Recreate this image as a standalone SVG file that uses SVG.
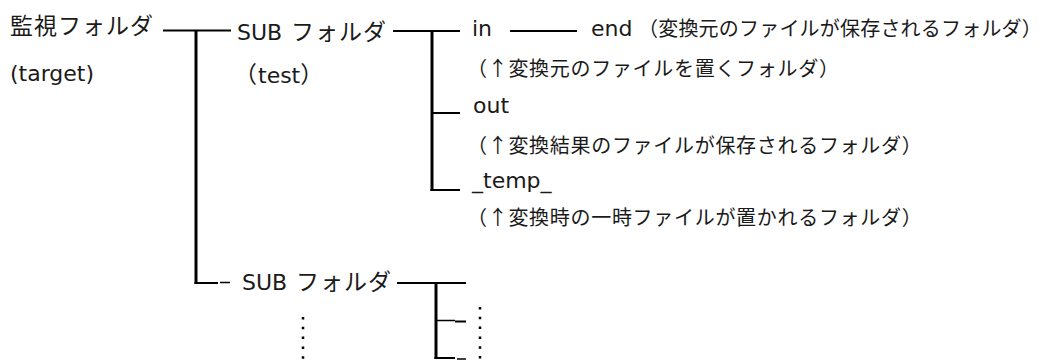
<svg xmlns="http://www.w3.org/2000/svg" width="1046" height="361" viewBox="0 0 1046 361">
<style>
.lat{font-family:"DejaVu Sans","Noto Sans CJK JP",sans-serif;font-size:22px;fill:#1a1a1a}
.jp{font-family:"Noto Sans CJK JP",sans-serif;font-size:23px;letter-spacing:1px;fill:#1a1a1a}
.sm{font-family:"Noto Sans CJK JP",sans-serif;font-size:20px;letter-spacing:0.7px;fill:#1a1a1a}
.sm1{letter-spacing:0.2px}
.h{stroke:#000;stroke-width:2;fill:none}
.v{stroke:#000;stroke-width:3;fill:none}
.d{stroke:#000;stroke-width:1.5;fill:none}
.dot{stroke:#000;stroke-width:2.5;stroke-dasharray:2.5 7.3;fill:none}
</style>
<rect width="1046" height="361" fill="#fff"/>
<g id="connectors">
<line class="h" x1="163" y1="30.5" x2="231" y2="30.5"/>
<line class="v" x1="196" y1="30" x2="196" y2="284"/>
<line class="h" x1="194.5" y1="283" x2="218" y2="283"/>
<line class="d" x1="220" y1="282.5" x2="230" y2="282.5"/>
<line class="h" x1="393" y1="31" x2="460" y2="31"/>
<line class="v" x1="432" y1="30" x2="432" y2="191"/>
<line class="h" x1="432" y1="113" x2="460" y2="113"/>
<line class="h" x1="430.5" y1="190" x2="460" y2="190"/>
<line class="h" x1="510" y1="31" x2="577" y2="31"/>
<line class="h" x1="397" y1="283" x2="466" y2="283"/>
<line class="v" x1="436" y1="283" x2="436" y2="359"/>
<line class="d" x1="436" y1="320.5" x2="455" y2="320.5"/>
<line class="h" x1="455" y1="321.5" x2="466" y2="321.5"/>
<line class="h" x1="434.5" y1="358" x2="455" y2="358"/>
<line class="d" x1="457" y1="359" x2="466" y2="359"/>
<line class="dot" x1="303" y1="317" x2="303" y2="361"/>
<line class="dot" x1="480" y1="307" x2="480" y2="361"/>
</g>
<g id="root"><text x="10" y="33.5"><tspan class="jp">監視フォルダ</tspan></text><text class="lat" x="10" y="81">(target)</text></g>
<g id="sub1"><text x="237" y="40"><tspan class="lat">SUB</tspan><tspan class="jp" x="291">フォルダ</tspan></text><text x="234" y="83"><tspan class="jp">（</tspan><tspan class="lat">test</tspan><tspan class="jp">）</tspan></text></g>
<g id="in"><text class="lat" x="472" y="35.5">in</text><text class="sm" x="467" y="76">（↑変換元のファイルを置くフォルダ）</text></g>
<g id="end"><text x="591" y="35.5"><tspan class="lat">end</tspan><tspan class="sm sm1" x="638">（変換元のファイルが保存されるフォルダ）</tspan></text></g>
<g id="out"><text class="lat" x="473" y="113">out</text><text class="sm" x="467" y="153">（↑変換結果のファイルが保存されるフォルダ）</text></g>
<g id="temp"><text class="lat" x="472" y="188">_temp_</text><text class="sm" x="467" y="225">（↑変換時の一時ファイルが置かれるフォルダ）</text></g>
<g id="sub2"><text x="242" y="290"><tspan class="lat">SUB</tspan><tspan class="jp" x="296">フォルダ</tspan></text></g>
</svg>
